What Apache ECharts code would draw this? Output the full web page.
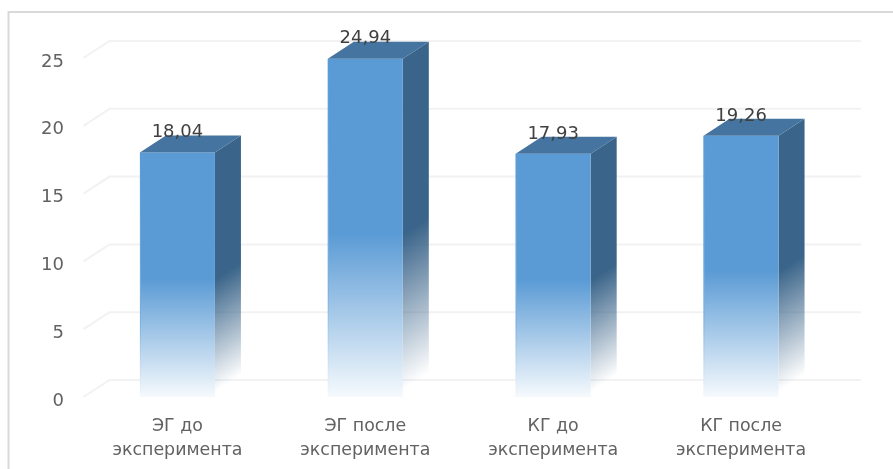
<!DOCTYPE html>
<html><head><meta charset="utf-8">
<style>html,body{margin:0;padding:0;background:#fff}#c{width:893px;height:469px}</style>
<script src="https://cdn.jsdelivr.net/npm/echarts@6/dist/echarts.min.js"></script>
</head><body><div id="c"></div>
<script>
const categories = ['ЭГ до\nэксперимента','ЭГ после\nэксперимента','КГ до\nэксперимента','КГ после\nэксперимента'];
const values = [18.04, 24.94, 17.93, 19.26];
const ticks = [0,5,10,15,20,25];

const DX = 26, DY = 17, BAR = 75;
const chart = echarts.init(document.getElementById('c'), null, {renderer:'canvas'});
const fmt = v => String(v).replace('.', ',');

function grad(stops){ return new echarts.graphic.LinearGradient(0,0,0,1,stops); }
function sideGrad(r,t,b){
  const len=Math.hypot(DY,DX), dx=DY/len, dy=DX/len, proj=(b-t)*dy;
  return new echarts.graphic.LinearGradient(r,t,r+dx*proj,t+dy*proj,[
    {offset:0,color:'#3A6489'},{offset:0.52,color:'#3A6489'},{offset:0.98,color:'rgba(58,100,137,0)'},{offset:1,color:'rgba(58,100,137,0)'}],true);
}

chart.setOption({
  animation:false,
  backgroundColor:'#fff',
  graphic:[
    {type:'polyline',silent:true,z:0,shape:{points:[[8.5,469],[8.5,12],[893,12]]},style:{stroke:'#d9d9d9',lineWidth:2,fill:null}}
  ],
  grid:{left:83.5,right:58,top:58,bottom:72,containLabel:false},
  xAxis:{type:'category',data:categories,axisLine:{show:false},axisTick:{show:false},
    axisLabel:{color:'#626262',fontFamily:'DejaVu Sans',fontSize:17.4,lineHeight:24,margin:17}},
  yAxis:{type:'value',min:0,max:25,interval:5,axisLine:{show:false},axisTick:{show:false},splitLine:{show:false},
    axisLabel:{color:'#626262',fontFamily:'DejaVu Sans',fontSize:18,margin:19.5,verticalAlign:'top',lineHeight:8}},
  series:[
    {type:'custom',coordinateSystem:'cartesian2d',clip:false,silent:true,z:1,
     data:ticks.map(t=>[0,t]),
     encode:{x:0,y:1},
     renderItem(p,api){
       const y=api.coord([0,api.value(1)])[1], cs=p.coordSys;
       return {type:'polyline',shape:{points:[[cs.x,y],[cs.x+DX,y-DY],[cs.x+cs.width+DX,y-DY]]},
         style:{stroke:'#f2f2f2',lineWidth:2,fill:null}};
     }},
    {type:'custom',coordinateSystem:'cartesian2d',clip:false,silent:true,z:2,
     data:values.map((v,i)=>[i,v]),
     encode:{x:0,y:1},
     renderItem(p,api){
       const top=api.coord([api.value(0),api.value(1)]), base=api.coord([api.value(0),0]);
       const l=top[0]-BAR/2, r=l+BAR, t=top[1], b=base[1];
       return {type:'group',children:[
         {type:'polygon',shape:{points:[[r,t],[r+DX,t-DY],[r+DX,b-DY],[r,b]]},
          style:{fill:sideGrad(r,t,b)}},
         {type:'rect',shape:{x:l,y:t,width:BAR,height:b-t},
          style:{fill:grad([{offset:0,color:'#5B9BD5'},{offset:0.52,color:'#5B9BD5'},{offset:1,color:'#F6FAFD'}])}},
         {type:'line',shape:{x1:l+0.5,y1:t,x2:l+0.5,y2:b},
          style:{lineWidth:1,stroke:grad([{offset:0,color:'#5B9BD5'},{offset:0.7,color:'#7FB1E0'},{offset:1,color:'#F6FAFD'}])}},
         {type:'polygon',shape:{points:[[l,t],[l+DX,t-DY],[r+DX,t-DY],[r,t]]},style:{fill:'#44749F'}},
         {type:'text',style:{x:top[0],y:t-20,text:fmt(api.value(1)),fill:'#404040',
           font:'18px "DejaVu Sans"',align:'center',verticalAlign:'middle'},z2:10}
       ]};
     }}
  ]
});
</script></body></html>
